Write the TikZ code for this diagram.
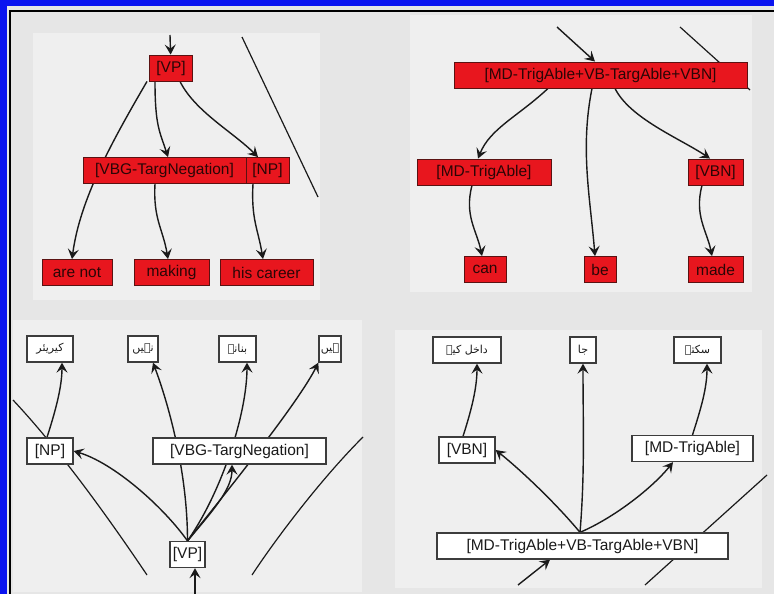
\documentclass[tikz,border=0pt]{standalone}
\usepackage{fontspec}
\setmainfont{Liberation Sans}
\newfontfamily\urdufont[Script=Arabic]{DejaVu Sans}
\TeXXeTstate=1
\usepackage{tikz}
\usetikzlibrary{arrows.meta}
\definecolor{bg}{HTML}{E6E6E6}
\definecolor{panel}{HTML}{EFEFEF}
\definecolor{frame}{HTML}{0A14F0}
\definecolor{nodered}{HTML}{E8161E}
\definecolor{rededge}{HTML}{5A1212}
\definecolor{redtext}{HTML}{2A0606}
\definecolor{ink}{HTML}{1A1A1A}
\pgfdeclarelayer{back}
\pgfdeclarelayer{wires}
\pgfsetlayers{back,wires,main}
\tikzset{
  rbox/.style={draw=rededge, fill=nodered, line width=0.9pt, minimum height=26pt, inner sep=0pt, text=redtext, font=\fontsize{15.5}{17}\selectfont},
  wbox/.style={draw=ink!85, fill=white, line width=1.3pt, minimum height=26pt, inner sep=0pt, text=ink, font=\fontsize{15.5}{17}\selectfont},
  ubox/.style={wbox, font=\urdufont\fontsize{11}{13}\selectfont},
  edge/.style={draw=ink, line width=1.4pt, -{Stealth[length=10pt,width=11pt,inset=4pt]}},
  plain/.style={draw=ink, line width=1.2pt},
}

\begin{document}
\begin{tikzpicture}[x=1pt,y=-1pt]
  \useasboundingbox (0,0) rectangle (774,594);
  \begin{pgfonlayer}{back}
    \fill[bg] (0,0) rectangle (774,594);
    \fill[panel] (33,33) rectangle (320,300);
    \fill[panel] (410,15) rectangle (752,292);
    \fill[panel] (13,320) rectangle (362,592);
    \fill[panel] (395,330) rectangle (762,588);
    \fill[frame] (0,0) rectangle (774,6);
    \fill[frame] (0,0) rectangle (7,594);
    \draw[black, line width=1.6pt] (10,594) -- (10,11) -- (774,11);
  \end{pgfonlayer}

  % English tree, left
  \coordinate (tlin) at (170,35);
  \node[rbox, minimum width=43] (vp) at (171,68) {[VP]};
  \node[rbox, minimum width=163] (vbg) at (164.5,170.5) {[VBG-TargNegation]};
  \node[rbox, minimum width=43] (np) at (267.5,170.5) {[NP]};
  \node[rbox, minimum width=70] (arenot) at (77,272.5) {are not};
  \node[rbox, minimum width=75] (making) at (171.5,272.5) {making};
  \node[rbox, minimum width=93] (career) at (266.5,272.5) {his career};

  % English tree, right
  \coordinate (trin) at (557,27);
  \node[rbox, minimum width=293] (big) at (600.5,75) {[MD-TrigAble+VB-TargAble+VBN]};
  \node[rbox, minimum width=134] (md) at (484,172) {[MD-TrigAble]};
  \node[rbox, minimum width=55] (vbn) at (715.5,172) {[VBN]};
  \node[rbox, minimum width=42] (can) at (485,269.5) {can};
  \node[rbox, minimum width=32] (be) at (600,269.5) {be};
  \node[rbox, minimum width=55] (made) at (715.5,269.5) {made};

  % Urdu tree, left
  \coordinate (blin) at (195,594);
  \node[ubox, minimum width=46] (careeru) at (50,349) {\beginR کیریئر\endR};
  \node[ubox, minimum width=30] (nahin) at (143,349) {\beginR نہیں\endR};
  \node[ubox, minimum width=37] (banane) at (237.5,349) {\beginR بنانے\endR};
  \node[ubox, minimum width=22] (hain) at (330,349) {\beginR ہیں\endR};
  \node[wbox, minimum width=46] (np2) at (50,451) {[NP]};
  \node[wbox, minimum width=173] (vbg2) at (239.5,451) {[VBG-TargNegation]};
  \node[wbox, minimum width=35] (vp2) at (187.5,554.5) {[VP]};

  % Urdu tree, right
  \coordinate (brin) at (518,585);
  \node[ubox, minimum width=68] (dakhil) at (467,350) {\beginR داخل کیے\endR};
  \node[ubox, minimum width=26] (ja) at (583,350) {\beginR جا\endR};
  \node[ubox, minimum width=47] (sakte) at (697.5,350) {\beginR سکتے\endR};
  \node[wbox, minimum width=56] (vbn2) at (467,450) {[VBN]};
  \node[wbox, minimum width=121] (md2) at (692.5,448.5) {[MD-TrigAble]};
  \node[wbox, minimum width=291] (big2) at (582.5,546) {[MD-TrigAble+VB-TargAble+VBN]};

  \begin{pgfonlayer}{wires}
    \draw[plain] (242,37) -- (318,197);
    \draw[plain] (680,27) -- (750,90);
    \draw[plain] (13,400) .. controls (60,450) and (110,520) .. (147,575);
    \draw[plain] (363,437) .. controls (320,480) and (275,540) .. (252,575);
    \draw[plain] (767,475) -- (645,585);

    \draw[edge] (tlin) -- (vp);
    \draw[edge] ([xshift=-24]vp.south) .. controls +(-35,60) and +(8,-60) .. ([xshift=-5]arenot.north);
    \draw[edge] ([xshift=-16]vp.south) .. controls +(0,45) and +(-8,-25) .. ([xshift=3.5]vbg.north);
    \draw[edge] ([xshift=9]vp.south) .. controls +(15,30) and +(-25,-25) .. ([xshift=-9.5]np.north);
    \draw[edge] ([xshift=-14.5]np.south) .. controls +(-2,35) and +(-5,-30) .. ([xshift=-3.5]career.north);
    \draw[edge] ([xshift=-9.5]vbg.south) .. controls +(-2,35) and +(-5,-30) .. ([xshift=-3.5]making.north);

    \draw[edge] (trin) -- ([xshift=-5.5]big.north);
    \draw[edge] ([xshift=-52.5]big.south) .. controls +(-30,28) and +(12,-30) .. ([xshift=-6]md.north);
    \draw[edge] ([xshift=-8.5]big.south) .. controls +(-12,60) and +(-5,-60) .. ([xshift=-5]be.north);
    \draw[edge] ([xshift=14.5]big.south) .. controls +(15,30) and +(-30,-20) .. ([xshift=-5.5]vbn.north);
    \draw[edge] ([xshift=-12]md.south) .. controls +(-8,30) and +(-5,-25) .. ([xshift=-3]can.north);
    \draw[edge] ([xshift=-13.5]vbn.south) .. controls +(-8,30) and +(-5,-25) .. ([xshift=-3.5]made.north);

    \draw[edge] (blin) -- ([xshift=7.5]vp2.south);
    \draw[edge] ([xshift=-3]np2.north) .. controls +(8,-25) and +(0,25) .. ([xshift=12]careeru.south);
    \draw[edge] (vp2.north) .. controls +(-25,-35) and +(40,12) .. (np2.east);
    \draw[edge] (vp2.north) .. controls +(0,-70) and +(15,40) .. ([xshift=10]nahin.south);
    \draw[edge] (vp2.north) .. controls +(25,-30) and +(0,25) .. ([xshift=-7.5]vbg2.south);
    \draw[edge] (vp2.north) .. controls +(35,-50) and +(0,50) .. ([xshift=9.5]banane.south);
    \draw[edge] (vp2.north) .. controls +(40,-50) and +(-20,40) .. (hain.south west);

    \draw[edge] (brin) -- ([xshift=-32.5]big2.south);
    \draw[edge] ([xshift=-2.5]big2.north) .. controls +(-25,-30) and +(25,20) .. (vbn2.east);
    \draw[edge] ([xshift=-2.5]big2.north) .. controls +(5,-60) and +(0,60) .. (ja.south);
    \draw[edge] ([xshift=-2.5]big2.north) .. controls +(35,-15) and +(-20,25) .. ([xshift=-19.5]md2.south);
    \draw[edge] ([xshift=-4]vbn2.north) .. controls +(8,-25) and +(0,25) .. ([xshift=10]dakhil.south);
    \draw[edge] (md2.north) .. controls +(8,-25) and +(0,25) .. ([xshift=9.5]sakte.south);
  \end{pgfonlayer}
\end{tikzpicture}
\end{document}
